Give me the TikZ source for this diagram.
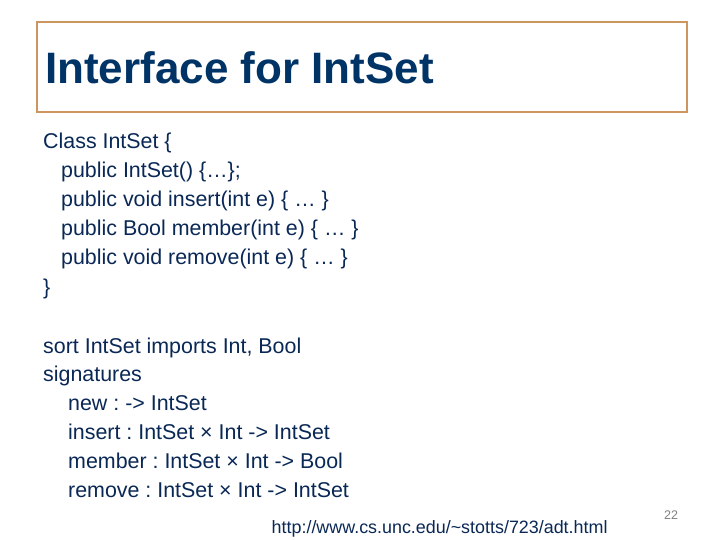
\documentclass[tikz,border=0pt]{standalone}
\usepackage{fontspec}
\setmainfont{Liberation Sans}
\frenchspacing
\definecolor{titleblue}{RGB}{0,51,102}
\definecolor{bodyblue}{RGB}{10,40,85}
\definecolor{boxtan}{RGB}{205,150,95}
\definecolor{pagegray}{RGB}{128,128,128}
\begin{document}
\begin{tikzpicture}[x=1bp,y=-1bp,
  titletext/.style={anchor=base west,inner sep=0,text=titleblue,font=\fontsize{44bp}{50bp}\selectfont\bfseries},
  bodytext/.style={anchor=base west,inner sep=0,text=bodyblue,font=\fontsize{21.4bp}{26bp}\selectfont\frenchspacing},
  urltext/.style={anchor=base west,inner sep=0,text=bodyblue,font=\fontsize{17.9bp}{22bp}\selectfont},
  numtext/.style={anchor=base west,inner sep=0,text=pagegray,font=\fontsize{12.5bp}{15bp}\selectfont},
  titlebox/.style={draw=boxtan,line width=2bp}]
\useasboundingbox[fill=white] (0,0) rectangle (720,540);
\node[titlebox,minimum width=650bp,minimum height=90bp,anchor=north west,inner sep=0] (box) at (35.5,21.5) {};
\node[titletext] (title) at (45,83.5) {Interface for IntSet};
% class block
\node[bodytext] (c1) at (43,149) {Class IntSet \{};
\node[bodytext] (c2) at (61,178) {public IntSet() \{…\};};
\node[bodytext] (c3) at (61,207) {public void insert(int e) \{ … \}};
\node[bodytext] (c4) at (61,236) {public Bool member(int e) \{ … \}};
\node[bodytext] (c5) at (61,265) {public void remove(int e) \{ … \}};
\node[bodytext] (c6) at (43,294) {\}};
% signature block
\node[bodytext] (s1) at (43,353) {sort IntSet imports Int, Bool};
\node[bodytext] (s2) at (43,381.8) {signatures};
\node[bodytext] (s3) at (68,410.6) {new : -> IntSet};
\node[bodytext] (s4) at (68,439.4) {insert : IntSet × Int -> IntSet};
\node[bodytext] (s5) at (68,468.2) {member : IntSet × Int -> Bool};
\node[bodytext] (s6) at (68,497) {remove : IntSet × Int -> IntSet};
% footer
\node[urltext] (url) at (271.5,533) {http://www.cs.unc.edu/\textasciitilde stotts/723/adt.html};
\node[numtext] (pg) at (664,519) {22};
\end{tikzpicture}
\end{document}
